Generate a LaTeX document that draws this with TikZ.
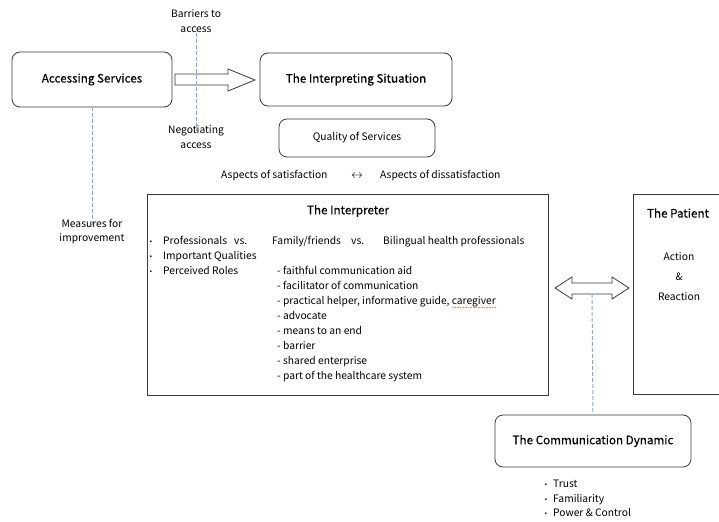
\documentclass[tikz,border=0pt]{standalone}
\usepackage{fontspec}
\setmainfont{Noto Sans CJK KR}
\newfontfamily\ttlfont[FakeBold=0.35]{Noto Sans CJK KR}
\usetikzlibrary{calc}
\definecolor{boxc}{HTML}{3A3A3A}
\definecolor{dashc}{HTML}{8FA8C4}
\definecolor{spellc}{HTML}{E89050}
\begin{document}
\begin{tikzpicture}[x=1bp,y=-1bp,
  rbox/.style={draw=boxc, line width=0.8bp, rounded corners=8bp, inner sep=0pt},
  sbox/.style={draw=boxc, line width=0.8bp, inner sep=0pt},
  dashln/.style={draw=dashc, line width=1bp, dash pattern=on 4bp off 2bp},
  txt/.style={font=\fontsize{10.3}{12}\selectfont, inner sep=0pt, text height=7bp, text depth=2bp},
  ttl/.style={font=\fontsize{11.7}{13}\ttlfont, inner sep=0pt},
  bul/.style={font=\fontsize{13}{13}\selectfont, inner sep=0pt, yshift=-1.5bp},
  blockarr/.style={draw=boxc, line width=0.8bp, fill=white}]
\useasboundingbox (0,0) rectangle (719,522);

% boxes
\node[rbox, ttl, minimum width=160bp, minimum height=55bp] (acc) at (92,79.5) {Accessing Services};
\node[rbox, ttl, minimum width=192bp, minimum height=53bp] (sit) at (356,79.5) {The Interpreting Situation};
\node[rbox, txt, text height=, text depth=, minimum width=156bp, minimum height=38bp] (qual) at (357,138) {Quality of Services};
\node[sbox, minimum width=401bp, minimum height=201bp] (interp) at (347.5,294.5) {};
\node[rbox, ttl, minimum width=196bp, minimum height=52bp] (cd) at (593,441) {The Communication Dynamic};
\draw[draw=boxc, line width=0.8bp] (730,194) -- (633,194) -- (633,394) -- (730,394);
\coordinate (pat) at (633,294);

% block arrow right
\draw[blockarr] (175,74) -- (228,74) -- (228,69) -- (255,80) -- (228,91) -- (228,85) -- (175,85) -- cycle;
% double block arrow
\draw[blockarr] (555,288) -- (572,277) -- (572,283) -- (612,283) -- (612,277) -- (629,288) -- (612,299) -- (612,294) -- (572,294) -- (572,299) -- cycle;
\coordinate (dbl) at (592,294);

% labels around arrows
\node[txt] (bar1) at (196,15) {Barriers to};
\node[txt] (bar2) at (196,30) {access};
\node[txt] (neg1) at (196,131) {Negotiating};
\node[txt] (neg2) at (196,146) {access};
\draw[dashln] ([yshift=2bp]bar2.south) -- ([yshift=-5bp]neg1.north);

\node[txt] (mea1) at (92,225) {Measures for};
\node[txt] (mea2) at (92,239) {improvement};
\draw[dashln] (acc.south) -- ([yshift=-6bp]mea1.north);

\draw[dashln] (dbl) -- (cd.north);

% aspects
\node[txt, anchor=west] (sat) at (221,176) {Aspects of satisfaction};
\node[txt, font=\fontsize{12}{12}\selectfont] (lr) at (357,176) {$\leftrightarrow$};
\node[txt, anchor=west] (dis) at (380,176) {Aspects of dissatisfaction};

% interpreter content
\node[ttl] (ititle) at (348,211) {The Interpreter};
\node[bul] (b1) at (151,242) {·};
\node[bul] (b2) at (151,257) {·};
\node[bul] (b3) at (151,272) {·};
\node[txt, anchor=west] (p1) at (163,242) {Professionals};
\node[txt, anchor=west] (v1) at (234,242) {vs.};
\node[txt, anchor=west] (p2) at (272,242) {Family/friends};
\node[txt, anchor=west] (v2) at (351,242) {vs.};
\node[txt, anchor=west] (p3) at (383,242) {Bilingual health professionals};
\node[txt, anchor=west] (q1) at (163,257) {Important Qualities};
\node[txt, anchor=west] (r0) at (163,272) {Perceived Roles};
\node[txt, anchor=west] (r1) at (277,272) {- faithful communication aid};
\node[txt, anchor=west] (r2) at (277,287) {- facilitator of communication};
\node[txt, anchor=west] (r3) at (277,302) {- practical helper, informative guide, caregiver};
\node[txt, anchor=west] (r4) at (277,317) {- advocate};
\node[txt, anchor=west] (r5) at (277,332) {- means to an end};
\node[txt, anchor=west] (r6) at (277,347) {- barrier};
\node[txt, anchor=west] (r7) at (277,362) {- shared enterprise};
\node[txt, anchor=west] (r8) at (277,377) {- part of the healthcare system};
\draw[spellc, line width=0.8bp, dash pattern=on 0.8bp off 0.8bp] ([xshift=-44bp,yshift=-1bp]r3.south east) -- ([yshift=-1bp]r3.south east);

% patient content
\node[ttl] (ptitle) at (678,213) {The Patient};
\node[txt] (pa1) at (679,258) {Action};
\node[txt] (pa2) at (679,278) {\&};
\node[txt] (pa3) at (679,298) {Reaction};

% communication dynamic bullets
\node[bul] (c1) at (546,485) {·};
\node[bul] (c2) at (546,500) {·};
\node[bul] (c3) at (546,514) {·};
\node[txt, anchor=west] (t1) at (553,485) {Trust};
\node[txt, anchor=west] (t2) at (553,500) {Familiarity};
\node[txt, anchor=west] (t3) at (553,514) {Power \& Control};
\end{tikzpicture}
\end{document}
